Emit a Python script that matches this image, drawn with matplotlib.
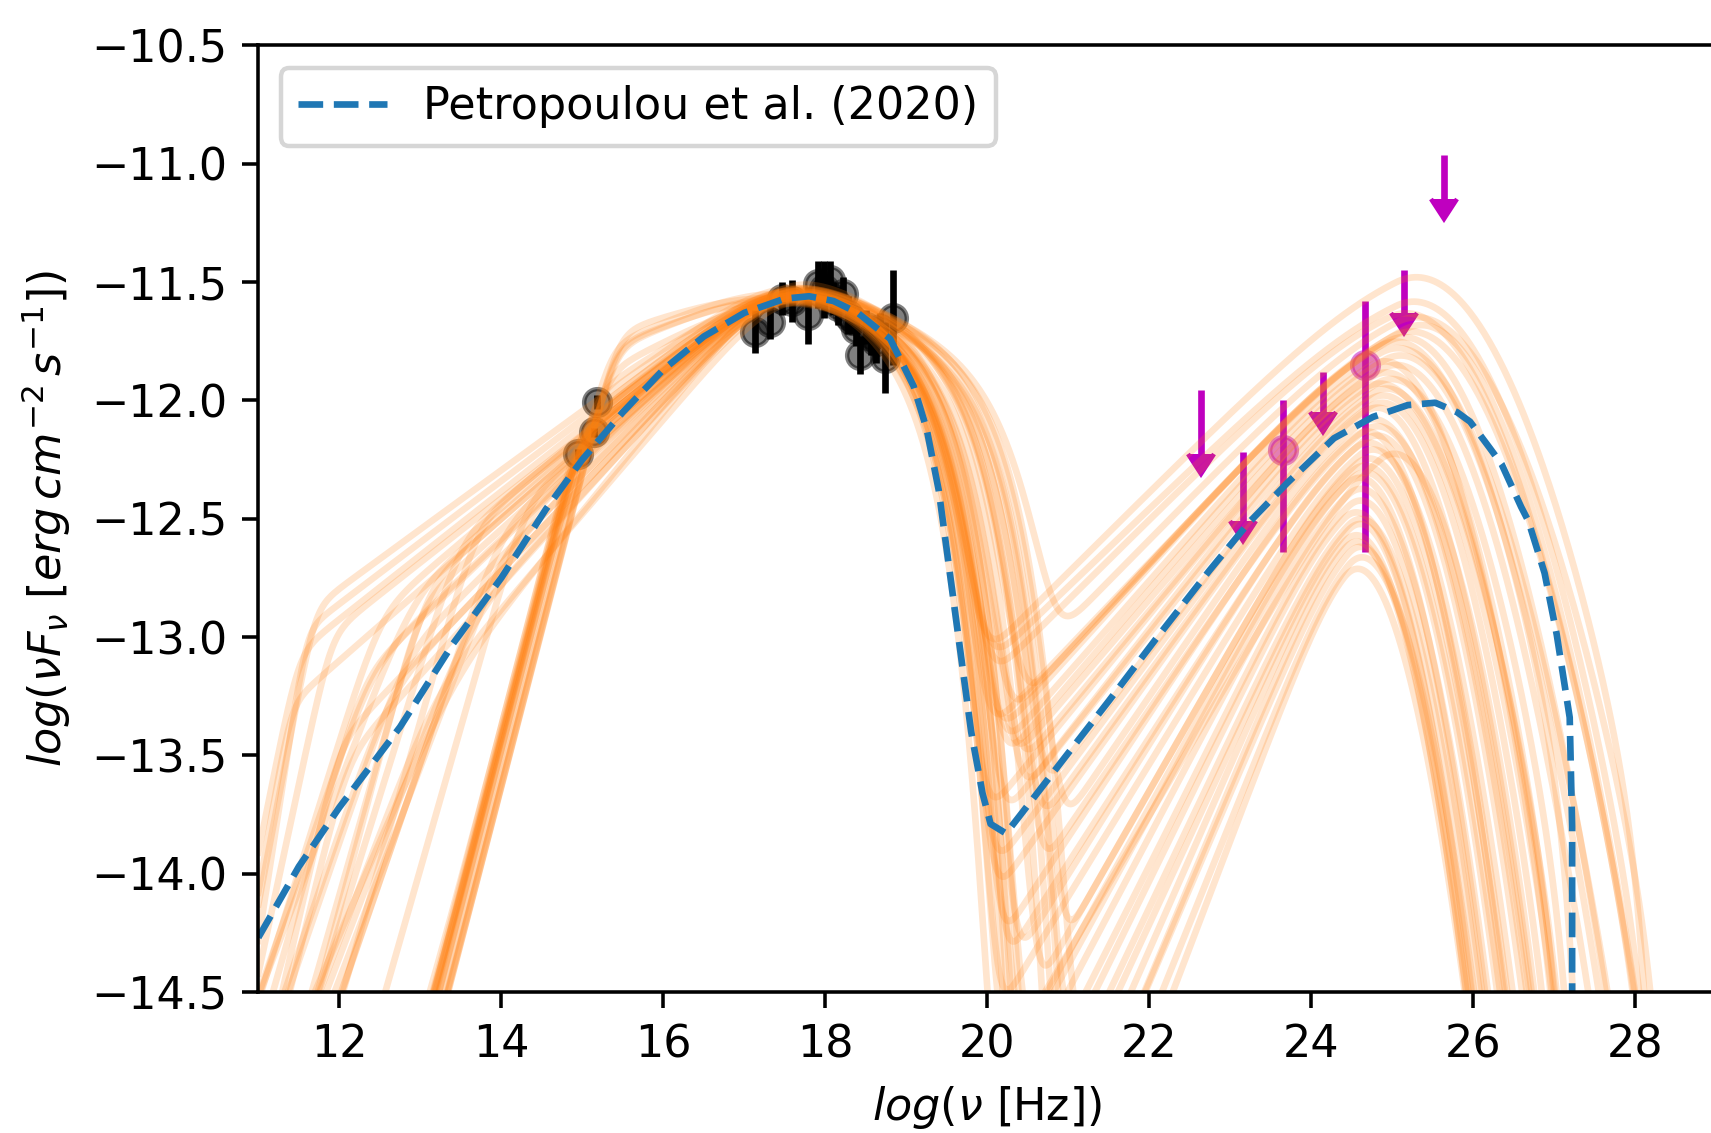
import numpy as np
import matplotlib
matplotlib.use('Agg')
import matplotlib.pyplot as plt


# optical / X-ray points (log nu, log nuFnu, error)
xray_lognu = [14.95, 15.14, 15.18, 17.13, 17.32, 17.46, 17.59, 17.78, 17.91, 17.98, 18.06, 18.10,
              18.16, 18.22, 18.28, 18.33, 18.38, 18.43, 18.50, 18.56, 18.63, 18.68, 18.74, 18.84]
xray_logflux = [-12.227, -12.135, -12.008, -11.71, -11.67, -11.57, -11.58, -11.64, -11.51, -11.53, -11.49, -11.57,
                -11.60, -11.55, -11.64, -11.66, -11.70, -11.81, -11.69, -11.73, -11.75, -11.70, -11.82, -11.65]
xray_err = [0.02, 0.02, 0.03, 0.09, 0.07, 0.07, 0.09, 0.12, 0.10, 0.12, 0.08, 0.07,
            0.08, 0.07, 0.08, 0.06, 0.07, 0.08, 0.07, 0.08, 0.09, 0.07, 0.15, 0.20]

# gamma-ray detections
gamma_lognu = [23.65, 24.66]
gamma_logflux = [-12.21, -11.85]
gamma_err_lo = [0.43, 0.79]
gamma_err_hi = [0.21, 0.27]

# gamma-ray upper limits
ul_lognu = [22.64, 23.16, 24.15, 25.15, 25.64]
ul_logflux = [-11.955, -12.22, -11.88, -11.45, -10.965]
ul_len = [0.27, 0.29, 0.17, 0.18, 0.185]

# Petropoulou et al. (2020) model
petro_lognu = [11.0, 11.5, 12.0, 12.75, 13.4, 14.0, 14.55, 15.0, 15.5, 16.0, 16.5, 17.0, 17.25, 17.5, 17.8,
               18.1, 18.4, 18.8, 19.09, 19.25, 19.4, 19.6, 19.8, 19.94, 20.04, 20.23, 20.39, 21.0, 21.5, 22.1,
               22.74, 23.22, 23.7, 24.28, 24.76, 25.19, 25.53, 25.8, 25.96, 26.2, 26.35, 26.59, 26.68, 26.88,
               27.03, 27.19, 27.22, 27.22]
petro_logflux = [-14.27, -13.97, -13.72, -13.38, -13.03, -12.75, -12.46, -12.25, -12.05, -11.87, -11.73,
                 -11.63, -11.60, -11.57, -11.56, -11.58, -11.63, -11.74, -11.94, -12.12, -12.38, -12.89,
                 -13.40, -13.66, -13.79, -13.83, -13.76, -13.49, -13.27, -13.00, -12.72, -12.52, -12.35,
                 -12.16, -12.07, -12.02, -12.01, -12.05, -12.09, -12.20, -12.27, -12.45, -12.51, -12.73,
                 -12.99, -13.34, -13.80, -15.0]

# model samples: synchrotron hump
syn_peak = [-11.44, -11.46, -11.45, -11.47, -11.43, -11.45, -11.48, -11.44, -11.46, -11.45, -11.47, -11.44,
            -11.46, -11.45, -11.43, -11.47,
            -11.42, -11.45, -11.47, -11.44, -11.46, -11.43, -11.48, -11.45, -11.44, -11.47, -11.46, -11.43,
            -11.45, -11.44, -11.47, -11.46, -11.42, -11.45, -11.48, -11.44, -11.46, -11.43, -11.45, -11.47]
syn_slope = [0.27, 0.15, 0.28, 0.14, 0.27, 0.29, 0.18, 0.27, 0.12, 0.26, 0.27, 0.15, 0.28, 0.22, 0.26, 0.29,
             0.25, 0.30, 0.27, 0.33, 0.36, 0.30, 0.40, 0.28, 0.35, 0.32, 0.30, 0.26, 0.38, 0.29, 0.34, 0.31,
             0.42, 0.28, 0.30, 0.27, 0.36, 0.33, 0.30, 0.37]
syn_lowbreak = [15.0, 15.4, 14.95, 15.4, 15.0, 14.9, 15.3, 15.0, 15.45, 14.95, 15.0, 15.35, 14.9, 15.15,
                15.0, 14.95,
                11.7, 11.4, 11.9, 12.3, 12.6, 12.9, 13.2, 13.5, 13.8, 14.1, 14.3, 11.6, 12.1, 12.5, 12.8,
                13.0, 13.4, 13.7, 14.0, 11.5, 12.0, 12.4, 13.1, 13.6]
syn_lowslope = [1.33] * 16 + [1.8, 2.0, 1.6, 1.2, 1.0, 0.9, 0.9, 1.1, 1.0, 0.9, 1.2, 2.2, 1.4, 1.1, 1.0, 1.3,
                              0.8, 1.2, 1.0, 1.7, 1.5, 1.0, 1.2, 0.9]
syn_cut = [19.35, 19.45, 19.3, 19.5, 19.4, 19.25, 19.55, 19.4, 19.35, 19.45, 19.3, 19.6, 19.4, 19.5, 19.35,
           19.45,
           19.6, 19.3, 19.8, 20.0, 19.5, 20.2, 19.2, 19.9, 20.3, 19.7, 19.4, 20.1, 19.6, 19.9, 20.15, 19.5,
           19.8, 20.0, 19.3, 20.25, 19.7, 19.9, 19.6, 20.1]

# model samples: inverse Compton hump
ic_peak = [-11.35, -11.62, -11.90, -12.20, -11.50, -11.75, -12.05, -12.45, -11.55, -11.80, -12.10, -12.55,
           -11.45, -11.70, -12.00, -12.35, -11.60, -11.85, -12.15, -12.50, -11.65, -11.95, -12.25, -12.60,
           -11.52, -11.78, -12.02, -12.30, -11.68, -11.88, -12.12, -12.40, -11.58, -11.82, -12.08, -12.38,
           -11.72, -11.98, -12.18, -12.48]
ic_peaknu = [25.05, 24.85, 24.65, 24.45, 24.95, 24.75, 24.55, 24.4, 25.15, 24.65, 24.85, 24.45, 25.05, 24.75,
             24.55, 24.4, 24.95, 24.7, 24.5, 24.45, 24.85, 24.6, 24.45, 24.4, 25.05, 24.8, 24.65, 24.45,
             24.9, 24.7, 24.55, 24.45, 25.0, 24.75, 24.6, 24.45, 24.85, 24.65, 24.5, 24.4]
ic_rise = [0.34, 0.38, 0.48, 0.62, 0.34, 0.42, 0.55, 0.78, 0.36, 0.44, 0.58, 0.85, 0.33, 0.40, 0.52, 0.70,
           0.37, 0.46, 0.60, 0.80, 0.39, 0.50, 0.65, 0.90, 0.35, 0.43, 0.53, 0.68, 0.40, 0.47, 0.60, 0.74,
           0.37, 0.45, 0.56, 0.72, 0.41, 0.50, 0.63, 0.82]
ic_curv = [0.28, 0.40, 0.60, 0.80, 0.32, 0.50, 0.70, 0.90, 0.36, 0.45, 0.65, 0.80, 0.32, 0.55, 0.75, 0.85,
           0.40, 0.50, 0.70, 0.90, 0.36, 0.60, 0.75, 0.85, 0.28, 0.45, 0.65, 0.80, 0.40, 0.55, 0.70, 0.90,
           0.32, 0.50, 0.68, 0.80, 0.42, 0.60, 0.72, 0.88]
ic_cut = [28.2, 27.3, 27.25, 29.0, 28.4, 27.2, 29.0, 29.0, 28.5, 27.3, 27.2, 29.0, 28.3, 27.25, 29.0, 29.0,
          28.2, 27.35, 27.2, 29.0, 28.3, 29.0, 27.25, 29.0, 28.4, 27.3, 29.0, 29.0, 28.2, 27.2, 29.0, 29.0,
          28.3, 27.3, 29.0, 29.0, 28.2, 27.25, 29.0, 29.0]

LN10 = np.log(10)


def soft(z, s):
    # s * log10(1 + 10**(z/s)), without overflow
    return s * np.logaddexp(0, z / s * LN10) / LN10


def sed_sample(x, i):
    ys = (syn_peak[i] + syn_slope[i] * (x - 17.5)
          - soft((syn_slope[i] + 0.15) * (x - 17.5), 0.35)
          - soft((syn_lowslope[i] - syn_slope[i]) * (syn_lowbreak[i] - x), 0.25)
          - 10 ** (x - syn_cut[i]) / LN10)
    dx = x - ic_peaknu[i]
    yc = (ic_peak[i] + ic_rise[i] * dx
          - soft(ic_rise[i] * dx, 0.5)
          - ic_curv[i] * np.clip(dx, 0, None) ** 2
          - 10 ** (3 * (x - ic_cut[i])))
    return np.logaddexp(ys * LN10, yc * LN10) / LN10


fig = plt.figure(figsize=(1711 / 320, 1133 / 320), dpi=320)
ax = fig.add_axes([0.151, 0.1245, 0.8521, 0.8354])

# data first, model curves go on top
ax.errorbar(xray_lognu, xray_logflux, yerr=xray_err, fmt='none', ecolor='k')
ax.plot(xray_lognu, xray_logflux, 'o', color='k', alpha=0.5)

ax.errorbar(gamma_lognu, gamma_logflux, yerr=[gamma_err_lo, gamma_err_hi], fmt='none', ecolor='m')
ax.plot(gamma_lognu, gamma_logflux, 'o', color='m', alpha=0.5)

ax.errorbar(ul_lognu, ul_logflux, yerr=ul_len, uplims=True, fmt='none', ecolor='m', color='m')

x = np.linspace(11, 29, 900)
for i in range(len(syn_peak)):
    ax.plot(x, sed_sample(x, i), color='C1', alpha=0.2)

ax.plot(petro_lognu, petro_logflux, '--', color='C0', label='Petropoulou et al. (2020)')

ax.set_xlim(11, 29)
ax.set_ylim(-14.5, -10.5)
ax.set_xlabel(r'$log(\nu$ [Hz]$)$')
ax.set_ylabel(r'$log(\nu F_{\nu}\ [erg\, cm^{-2}\, s^{-1}])$')
ax.legend(loc='upper left')

fig.savefig('out.png', dpi=320)
